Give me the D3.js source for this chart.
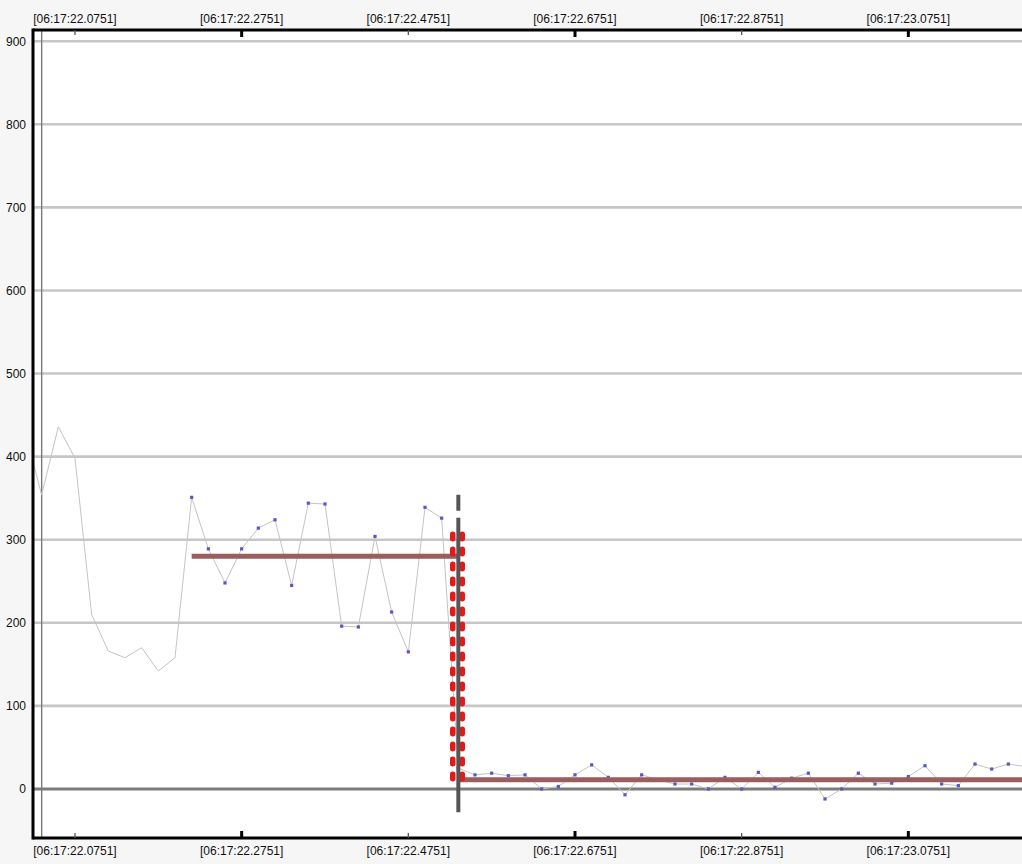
<!DOCTYPE html>
<html>
<head>
<meta charset="utf-8">
<script src="https://cdn.jsdelivr.net/npm/d3@7/dist/d3.min.js"></script>
<style>
  html, body { margin: 0; padding: 0; background: #f6f6f6; }
  svg { display: block; }
  text { font-family: "Liberation Sans", Arial, sans-serif; font-size: 12px; fill: #111; }
</style>
</head>
<body>
<svg id="chart" width="1022" height="864"></svg>
<script>
// ---- data ----
// sample times (seconds within minute 06:17)
const sampleTimes = [
  22.0151, 22.0351, 22.0551, 22.0751, 22.0951, 22.1151, 22.1351, 22.1551, 22.1751, 22.1951,
  22.2151, 22.2351, 22.2551, 22.2751, 22.2951, 22.3151, 22.3351, 22.3551, 22.3751, 22.3951,
  22.4151, 22.4351, 22.4551, 22.4751, 22.4951, 22.5151, 22.5351, 22.5551, 22.5751, 22.5951,
  22.6151, 22.6351, 22.6551, 22.6751, 22.6951, 22.7151, 22.7351, 22.7551, 22.7751, 22.7951,
  22.8151, 22.8351, 22.8551, 22.8751, 22.8951, 22.9151, 22.9351, 22.9551, 22.9751, 22.9951,
  23.0151, 23.0351, 23.0551, 23.0751, 23.0951, 23.1151, 23.1351, 23.1551, 23.1751, 23.1951,
  23.2151
];
const sampleValues = [
  430, 354, 436, 398, 210, 166, 158, 170, 142, 158,
  351, 289, 248, 289, 314, 324, 245, 344, 343, 196,
  195, 304, 213, 165, 339, 326, 25, 17, 19, 16,
  17, 0, 3, 17, 29, 14, -7, 17, 11, 6,
  6, 0, 14, 0, 20, 2, 13, 19, -12, 0,
  19, 6, 7, 15, 28, 6, 4, 30, 24, 30,
  27
];
const firstMarkedIndex = 10;   // samples from here on carry a dot

// step levels (brown lines): [start time, end time, level]
const levelStarts = [22.2151, 22.5351];
const levelEnds   = [22.5351, 23.2300];
const levelValues = [280, 11];

// change marker
const changeTime = 22.5351;
const changeRange = [354, -28];
const redMarkTimes = [22.5284, 22.5398];
const redMarkRange = [310, 11];

// thin reference line
const refTime = 22.0351;

// axis ticks
const yTicks = [0, 100, 200, 300, 400, 500, 600, 700, 800, 900];
const xTickTimes = [22.0751, 22.2751, 22.4751, 22.6751, 22.8751, 23.0751];
const xTickMajor = [false, true, false, true, false, true];
const xTickLabels = ["[06:17:22.0751]", "[06:17:22.2751]", "[06:17:22.4751]",
                     "[06:17:22.6751]", "[06:17:22.8751]", "[06:17:23.0751]"];

// ---- layout ----
const svg = d3.select("#chart");
const L = 33, R = 1022, T = 30, B = 838;

const x = d3.scaleLinear().domain([22.0247, 23.2115]).range([L, R]);
const y = d3.scaleLinear().domain([-59, 913.5]).range([B, T]);

// plot background
svg.append("rect").attr("x", L).attr("y", T).attr("width", R - L + 10).attr("height", B - T).attr("fill", "#ffffff");

const clip = svg.append("clipPath").attr("id", "plotclip")
  .append("rect").attr("x", L).attr("y", T).attr("width", R - L + 10).attr("height", B - T);

const plot = svg.append("g").attr("clip-path", "url(#plotclip)");

// gridlines
plot.selectAll("line.grid").data(yTicks.filter(d => d !== 0)).enter().append("line")
  .attr("class", "grid")
  .attr("x1", L).attr("x2", R + 10)
  .attr("y1", d => y(d)).attr("y2", d => y(d))
  .attr("stroke", "#c6c6c6").attr("stroke-width", 2.6);

// zero line
plot.append("line")
  .attr("x1", L).attr("x2", R + 10)
  .attr("y1", y(0)).attr("y2", y(0))
  .attr("stroke", "#7c7c7c").attr("stroke-width", 3);

// thin reference vertical
plot.append("line")
  .attr("x1", x(refTime)).attr("x2", x(refTime))
  .attr("y1", T).attr("y2", B)
  .attr("stroke", "#7a7a7a").attr("stroke-width", 1.4);

// data line
const pts = sampleTimes.map((t, i) => ({ t, v: sampleValues[i], i }));
plot.append("path")
  .datum(pts)
  .attr("fill", "none")
  .attr("stroke", "#c4c4c4")
  .attr("stroke-width", 1)
  .attr("d", d3.line().x(d => x(d.t)).y(d => y(d.v)));

// dots
plot.selectAll("rect.dot").data(pts.filter(d => d.i >= firstMarkedIndex)).enter().append("rect")
  .attr("class", "dot")
  .attr("x", d => x(d.t) - 1.6).attr("y", d => y(d.v) - 1.6)
  .attr("width", 3.2).attr("height", 3.2)
  .attr("fill", "#5757c8");

// level lines
levelValues.forEach((v, i) => {
  plot.append("line")
    .attr("x1", x(levelStarts[i])).attr("x2", x(levelEnds[i]))
    .attr("y1", y(v)).attr("y2", y(v))
    .attr("stroke", "#9a5e5e").attr("stroke-width", 5);
});

// red dashed markers
redMarkTimes.forEach(t => {
  plot.append("line")
    .attr("x1", x(t)).attr("x2", x(t))
    .attr("y1", y(redMarkRange[0]) + 2.75).attr("y2", y(redMarkRange[1]))
    .attr("stroke", "#e31a1a").attr("stroke-width", 5.5)
    .attr("stroke-linecap", "round")
    .attr("stroke-dasharray", "4.5,10.5");
});

// grey dashed change line
plot.append("line")
  .attr("x1", x(changeTime)).attr("x2", x(changeTime))
  .attr("y1", y(changeRange[0])).attr("y2", y(changeRange[1]))
  .attr("stroke", "#555555").attr("stroke-width", 4)
  .attr("stroke-dasharray", "16,7,400");

// frame
svg.append("line").attr("x1", L).attr("x2", L).attr("y1", T - 1.5).attr("y2", B + 1.5)
  .attr("stroke", "#000").attr("stroke-width", 3);
svg.append("line").attr("x1", L).attr("x2", R + 10).attr("y1", T).attr("y2", T)
  .attr("stroke", "#000").attr("stroke-width", 3);
svg.append("line").attr("x1", L).attr("x2", R + 10).attr("y1", B).attr("y2", B)
  .attr("stroke", "#000").attr("stroke-width", 3);

// y labels
svg.selectAll("text.ylab").data(yTicks).enter().append("text")
  .attr("class", "ylab")
  .attr("x", 26).attr("y", d => y(d) + 4.3)
  .attr("text-anchor", "end")
  .text(d => d);

// x ticks & labels (top and bottom)
xTickTimes.forEach((t, i) => {
  const major = xTickMajor[i];
  const len = major ? 7 : 5;
  const w = major ? 3 : 1.3;
  svg.append("line").attr("x1", x(t)).attr("x2", x(t))
    .attr("y1", T).attr("y2", T + len).attr("stroke", major ? "#000" : "#555").attr("stroke-width", w);
  svg.append("line").attr("x1", x(t)).attr("x2", x(t))
    .attr("y1", B).attr("y2", B - len).attr("stroke", major ? "#000" : "#555").attr("stroke-width", w);
  svg.append("text").attr("x", x(t)).attr("y", 22.5).attr("text-anchor", "middle").text(xTickLabels[i]);
  svg.append("text").attr("x", x(t)).attr("y", 854.5).attr("text-anchor", "middle").text(xTickLabels[i]);
});
</script>
</body>
</html>
